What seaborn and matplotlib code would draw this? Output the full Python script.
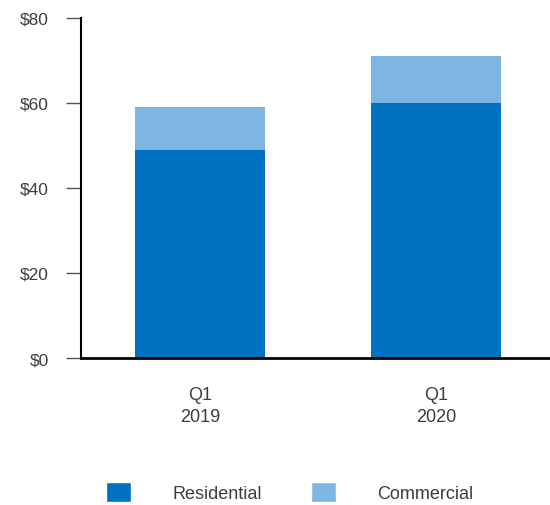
import matplotlib
matplotlib.use("Agg")
import matplotlib.pyplot as plt
from matplotlib.patches import Patch
import seaborn as sns
import pandas as pd

periods = ["Q1\n2019", "Q1\n2020"]
residential = [49, 60]
commercial = [10, 11]
y_ticks = [0, 20, 40, 60, 80]
y_tick_labels = ["$0", "$20", "$40", "$60", "$80"]

dark_blue = "#0071C1"
light_blue = "#7DB6E2"
text_color = "#3d3d3d"

sns.set_theme(style="white")
plt.rcParams["font.family"] = ["Liberation Sans", "DejaVu Sans"]

df = pd.DataFrame({
    "period": periods,
    "residential": residential,
    "total": [r + c for r, c in zip(residential, commercial)],
})

fig = plt.figure(figsize=(5.5, 5.06), dpi=100)
ax = fig.add_axes([0.147, 0.2905, 0.853, 0.672])

# stacked bars: total in light blue, residential drawn over it
sns.barplot(data=df, x="period", y="total", color=light_blue, width=0.55,
            saturation=1, linewidth=0, ax=ax)
sns.barplot(data=df, x="period", y="residential", color=dark_blue, width=0.55,
            saturation=1, linewidth=0, ax=ax)

ax.set_ylim(0, 80)
ax.set_xlim(-0.504, 1.483)
ax.set_yticks(y_ticks)
ax.set_yticklabels(y_tick_labels)
ax.set_xlabel("")
ax.set_ylabel("")

for s in ["top", "right"]:
    ax.spines[s].set_visible(False)
ax.spines["left"].set_color("black")
ax.spines["left"].set_linewidth(1.5)
ax.spines["bottom"].set_color("black")
ax.spines["bottom"].set_linewidth(2)

ax.tick_params(axis="y", which="both", left=True, length=11, width=1,
               color="#555555", labelsize=12.5, labelcolor=text_color, pad=12)
ax.tick_params(axis="x", bottom=False, labelsize=13, labelcolor=text_color, pad=14)
for lbl in ax.get_xticklabels():
    lbl.set_linespacing(1.4)

handles = [Patch(facecolor=dark_blue, label="Residential"),
           Patch(facecolor=light_blue, label="Commercial")]
fig.legend(handles=handles, loc="center", bbox_to_anchor=(0.527, 0.026), ncol=2,
           frameon=False, handlelength=1.39, handleheight=1.33, handletextpad=2.3,
           columnspacing=2.7, fontsize=13, labelcolor=text_color,
           borderaxespad=0, borderpad=0)

fig.savefig("out.png", dpi=100)
